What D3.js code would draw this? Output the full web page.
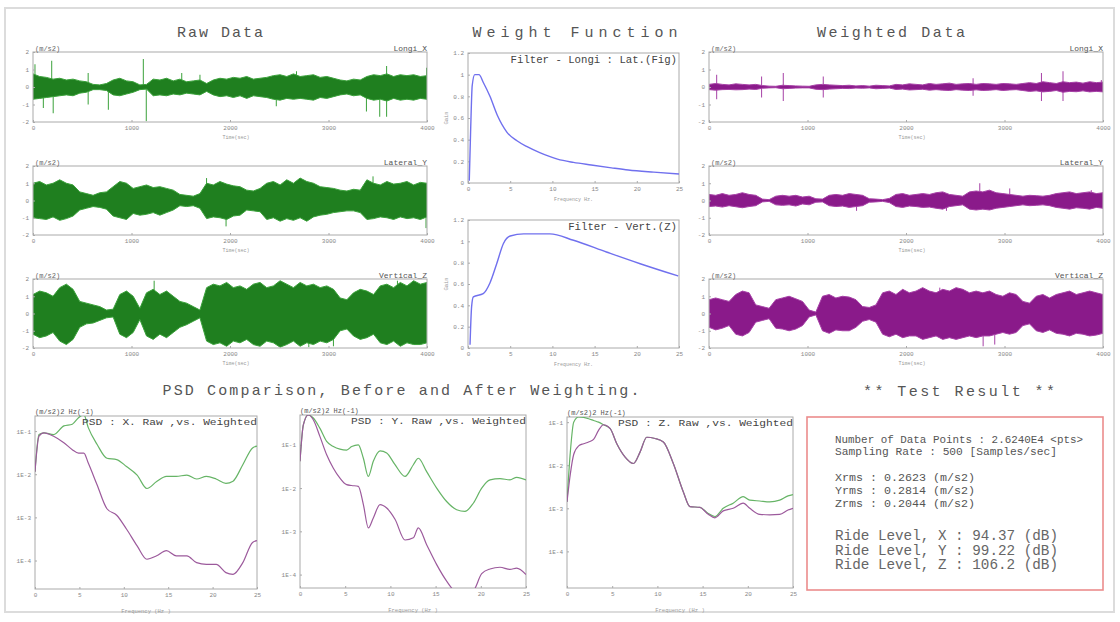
<!DOCTYPE html>
<html>
<head>
<meta charset="utf-8">
<script src="https://cdn.jsdelivr.net/npm/d3@7"></script>
<style>
	body { margin: 0; background: #fff; }
	svg text { font-family: "Liberation Mono", "DejaVu Sans Mono", monospace; }
	.tick text { fill: #888; font-size: 6px; }
	.tick line { stroke: #aaa; }
</style>
</head>
<body>
<svg id="chart" width="1120" height="622"></svg>
<script>
// ---- graduations des axes
var timeTicks = [0, 1000, 2000, 3000, 4000];
var accTicks = [-2, -1, 0, 1, 2];
var freqTicks = [0, 5, 10, 15, 20, 25];
var gainTicks = [0, 0.2, 0.4, 0.6, 0.8, 1, 1.2];
var psdTicks = [-4, -3, -2, -1]; // décades log10
var timeMax = 4000;

// ---- signaux bruts : enveloppes haute / basse (m/s2), échantillons réguliers sur 0..timeMax
var rawXUpper = [0.75,0.6,0.55, 0.45,0.5,0.4,0.45, 0.35,0.3, 0.15,0.12,0.2, 0.4,0.5,0.35,0.3, 0.12,0.15, 0.45,0.4,0.5,0.35,0.45,0.3,0.35,0.4, 0.2, 0.4,0.5,0.45,0.55,0.5,0.6,0.45,0.5,0.55, 0.65,0.7,0.6,0.75,0.6,0.65,0.7,0.55,0.6,0.5, 0.4,0.35,0.45,0.4, 0.6,0.7,0.65,0.75,0.6,0.7,0.65,0.7,0.6,0.65];
var rawXLower = [-0.7,-0.65,-0.6, -0.55,-0.5,-0.45,-0.5, -0.35,-0.3, -0.15,-0.15,-0.2, -0.45,-0.5,-0.4,-0.3, -0.15,-0.12, -0.5,-0.45,-0.5,-0.4,-0.45,-0.35,-0.4,-0.45, -0.25, -0.45,-0.55,-0.5,-0.6,-0.5,-0.65,-0.5,-0.55,-0.6, -0.7,-0.75,-0.65,-0.7,-0.65,-0.7,-0.75,-0.6,-0.65,-0.55, -0.45,-0.4,-0.5,-0.45, -0.65,-0.75,-0.7,-0.8,-0.65,-0.75,-0.7,-0.75,-0.65,-0.7];
var rawXSpikes = [[20,1.3],[105,-1.2],[190,1.5],[205,-1.5],[560,0.8],[560,-1.0],[765,-1.3],[1120,1.6],[1150,-1.95],[1510,0.8],[1695,0.7],[2470,-1.1],[2675,0.9],[3385,-1.4],[3520,-1.7],[3590,1.2],[3590,-1.7],[3995,1.1]];

var rawYUpper = [1.0,1.1,0.9,1.0,1.2,1.0,0.9, 0.5,0.4,0.3,0.45,0.5, 0.8,1.1,1.0, 0.7,0.8,0.9,0.75,0.8,0.7,0.6, 0.35,0.3,0.25,0.4, 1.0,0.9,1.1,0.95,0.85,0.8, 0.6,0.55,0.7, 1.0,1.1,0.9,1.2,1.0,1.3,1.1,1.0, 0.8,0.75,0.7, 0.6,0.55,0.65,0.6,1.2, 1.0,0.9,1.1,0.95,1.0,1.1,0.9,1.05,1.0];
var rawYLower = [-1.0,-1.05,-1.1,-0.95,-1.15,-1.05,-0.9, -0.55,-0.45,-0.35,-0.4,-0.5, -0.9,-1.0,-1.1, -0.75,-0.85,-0.8,-0.7,-0.85,-0.7,-0.55, -0.3,-0.35,-0.3,-0.45, -1.05,-0.95,-1.0,-1.1,-0.9,-0.85, -0.55,-0.6,-0.65, -1.1,-1.0,-1.2,-1.05,-1.15,-1.0,-1.2,-0.95, -0.85,-0.8,-0.7, -0.65,-0.6,-0.6,-0.7,-1.1, -1.05,-0.95,-1.0,-1.1,-0.95,-1.05,-1.0,-1.1,-0.95];
var rawYSpikes = [[1762,1.3],[1960,-1.5],[3452,1.4],[3990,-1.6]];

var rawZUpper = [1.1,1.3,1.2,1.0, 1.5,1.7,1.4, 0.7,0.6,0.5,0.4, 0.2,0.25, 1.1,1.3,1.0, 0.3, 1.2,1.4,1.1,1.3,1.0, 0.7,0.6,0.4, 0.2, 1.5,1.7,1.6,1.8,1.5,1.6,1.4,1.7,1.8,1.5,1.6,1.9,1.7,1.5,1.8,1.6,1.7,1.5,1.6,1.4, 0.9,0.8, 1.2,1.4,1.3,1.1, 1.6,1.7,1.5,1.8,1.6,1.9,1.7,1.8];
var rawZLower = [-1.2,-1.4,-1.3,-1.1, -1.6,-1.8,-1.5, -0.8,-0.6,-0.55,-0.4, -0.25,-0.2, -1.2,-1.4,-1.1, -0.35, -1.3,-1.5,-1.2,-1.4,-1.1, -0.8,-0.65,-0.45, -0.25, -1.6,-1.8,-1.7,-1.9,-1.6,-1.7,-1.5,-1.8,-1.9,-1.6,-1.7,-1.95,-1.8,-1.6,-1.9,-1.7,-1.8,-1.6,-1.7,-1.5, -1.0,-0.9, -1.3,-1.5,-1.4,-1.2, -1.7,-1.8,-1.6,-1.9,-1.7,-1.8,-1.8,-1.7];
var rawZSpikes = [[1230,1.9],[2800,-1.95],[3050,-1.9],[3700,1.9]];

// ---- signaux pondérés
var wXUpper = [0.15,0.2,0.15,0.12,0.18,0.15,0.12,0.15, 0.08,0.05,0.04, 0.1,0.08,0.06,0.05,0.04, 0.12,0.15,0.12,0.1, 0.08,0.1,0.06,0.08,0.05,0.1,0.08,0.06, 0.15,0.12,0.18,0.15,0.12,0.2,0.15,0.18,0.22,0.15,0.18,0.2,0.15,0.2,0.18,0.15,0.2,0.18,0.15,0.2, 0.25,0.2,0.3,0.25,0.2,0.3,0.25,0.28,0.22,0.3,0.25,0.28];
var wXLower = [-0.15,-0.18,-0.15,-0.14,-0.16,-0.15,-0.12,-0.14, -0.07,-0.05,-0.04, -0.1,-0.08,-0.06,-0.05,-0.05, -0.13,-0.15,-0.12,-0.1, -0.08,-0.09,-0.06,-0.07,-0.05,-0.1,-0.08,-0.06, -0.14,-0.12,-0.17,-0.15,-0.13,-0.18,-0.15,-0.18,-0.2,-0.15,-0.18,-0.2,-0.16,-0.2,-0.18,-0.15,-0.2,-0.17,-0.15,-0.2, -0.25,-0.22,-0.28,-0.25,-0.2,-0.3,-0.25,-0.27,-0.22,-0.28,-0.25,-0.28];
var wXSpikes = [[78,0.7],[78,-0.7],[534,0.6],[534,-0.6],[754,0.8],[754,-0.8],[1160,0.6],[1160,-0.6],[2681,0.5],[2681,-0.5],[3375,0.8],[3375,-0.8],[3594,0.9],[3594,-0.8],[3983,0.4]];

var wYUpper = [0.35,0.3,0.4,0.3,0.35,0.45,0.35,0.3, 0.08,0.05, 0.25,0.3,0.25,0.3,0.2,0.25, 0.1,0.08, 0.3,0.35,0.3,0.4,0.35,0.3, 0.1,0.08,0.05,0.12, 0.35,0.4,0.3,0.35, 0.4,0.35,0.45,0.5,0.35, 0.3,0.25, 0.5,0.55,0.5,0.6,0.45,0.4,0.35, 0.3,0.25,0.3,0.28,0.25,0.3, 0.4,0.45,0.5,0.4,0.45,0.5,0.4,0.45];
var wYLower = [-0.35,-0.32,-0.38,-0.3,-0.36,-0.42,-0.35,-0.3, -0.08,-0.05, -0.25,-0.28,-0.25,-0.32,-0.2,-0.25, -0.1,-0.08, -0.3,-0.35,-0.32,-0.4,-0.35,-0.3, -0.1,-0.08,-0.05,-0.12, -0.35,-0.4,-0.32,-0.35, -0.4,-0.38,-0.45,-0.5,-0.35, -0.3,-0.25, -0.5,-0.55,-0.5,-0.55,-0.45,-0.4,-0.35, -0.3,-0.25,-0.3,-0.28,-0.25,-0.3, -0.4,-0.45,-0.5,-0.42,-0.45,-0.5,-0.4,-0.45];
var wYSpikes = [[1498,-0.6],[2411,-0.6],[2749,1.0],[3053,0.7],[3881,0.6]];

var wZUpper = [0.8,0.9,0.8,0.7, 1.1,1.3,1.2, 0.5,0.4,0.3, 0.8,0.9,1.0,0.85,0.7, 0.2,0.08, 1.0,1.1,0.9,1.0,0.95,0.8, 0.4,0.35,0.5, 1.2,1.3,1.1,1.4,1.2,1.3,1.5,1.3,1.2,1.4,1.3,1.5,1.4,1.2,1.3,1.2,1.3,1.1,1.0,1.2,1.1, 0.7,0.6, 1.0,1.1,0.9, 1.1,1.2,1.3,1.1,1.2,1.3,1.2,1.1];
var wZLower = [-0.8,-0.95,-0.85,-0.7, -1.2,-1.3,-1.1, -0.5,-0.4,-0.3, -0.85,-0.9,-1.0,-0.9,-0.7, -0.2,-0.08, -1.0,-1.15,-0.95,-1.0,-1.0,-0.8, -0.45,-0.35,-0.5, -1.2,-1.35,-1.2,-1.4,-1.3,-1.3,-1.5,-1.4,-1.3,-1.5,-1.4,-1.5,-1.4,-1.3,-1.4,-1.3,-1.3,-1.2,-1.1,-1.2,-1.1, -0.7,-0.6, -1.0,-1.1,-0.95, -1.15,-1.2,-1.3,-1.15,-1.2,-1.3,-1.25,-1.15];
var wZSpikes = [[2343,1.5],[2783,-1.9],[2901,-1.8]];

// ---- fonctions de pondération (gain en fonction de la fréquence, Hz)
var wdFreq = [0.15,0.3,0.5,0.8,1.3,1.8,2.6,3.5,4.6,5.8,7,8.5,10.6,12.5,14.6,17,19,22,25];
var wdGain = [0.02,0.45,0.9,1.0,1.0,0.93,0.8,0.62,0.47,0.39,0.335,0.28,0.22,0.19,0.166,0.14,0.12,0.1,0.083];
var wkFreq = [0.24,0.43,0.63,1.8,2.6,3.4,4.2,5,6.6,9.7,12.5,16.4,20.4,24.9];
var wkGain = [0.03,0.39,0.48,0.51,0.61,0.79,0.98,1.05,1.07,1.07,1.01,0.9,0.79,0.675];

// ---- DSP (log10 de (m/s2)^2/Hz), brut vs pondéré
var psdXFreq = [0,0.45,1.0,2.1,3.25,4.2,4.9,5.5,6.0,7.0,8.1,9.2,10.3,11.5,12.6,13.7,14.8,15.9,17.1,18.2,19.3,20.4,21.5,22.3,23.4,24.5,25];
var psdXRaw = [-1.94,-1.08,-1.04,-1.08,-0.88,-0.84,-0.69,-0.62,-0.92,-1.31,-1.63,-1.66,-1.82,-2.02,-2.33,-2.17,-2.05,-2.05,-2.02,-2.11,-2.05,-2.11,-2.21,-2.16,-1.78,-1.39,-1.35];
var psdXWeighted = [-1.94,-1.12,-1.04,-1.12,-1.27,-1.43,-1.51,-1.51,-1.74,-2.25,-2.80,-2.95,-3.27,-3.66,-3.97,-3.89,-3.77,-3.89,-3.89,-4.05,-4.09,-4.09,-4.28,-4.32,-4.05,-3.58,-3.54];

var psdYFreq = [0,0.37,0.92,1.47,2.21,2.95,3.69,4.42,5.16,5.72,6.45,7.01,7.56,8.11,8.85,9.59,10.51,11.62,12.54,13.09,14.01,15.12,16.22,17.33,18.25,19.17,20.1,21.02,22.12,23.23,23.97,25];
var psdYRaw = [-1.38,-0.54,-0.31,-0.38,-0.62,-0.92,-1.04,-1.1,-1.12,-1.04,-1.0,-1.31,-1.73,-1.38,-1.14,-1.19,-1.46,-1.73,-1.46,-1.31,-1.62,-2.0,-2.31,-2.5,-2.54,-2.35,-2.0,-1.81,-1.78,-1.81,-1.75,-1.81];
var psdYWeighted = [-1.38,-0.54,-0.31,-0.42,-0.81,-1.23,-1.54,-1.77,-1.92,-1.94,-1.96,-2.38,-2.92,-2.69,-2.38,-2.46,-2.72,-3.2,-3.15,-2.92,-3.31,-3.77,-4.15,-4.42,-4.46,-4.38,-3.98,-3.87,-3.83,-3.88,-3.85,-4.0];

var psdZFreq = [0,0.37,0.74,1.29,1.84,2.39,2.94,3.49,4.04,4.78,5.51,6.43,7.35,8.09,8.82,9.74,10.66,11.76,12.87,13.6,14.71,15.63,16.36,17.28,18.38,19.49,20.22,21.32,22.43,23.53,24.45,25];
var psdZRaw = [-2.85,-1.69,-1.0,-0.88,-0.89,-0.92,-0.96,-1.0,-1.06,-1.15,-1.5,-1.81,-1.96,-1.69,-1.35,-1.38,-1.46,-1.96,-2.62,-2.96,-2.98,-3.12,-3.19,-3.0,-2.88,-2.73,-2.81,-2.83,-2.85,-2.81,-2.71,-2.68];
var psdZWeighted = [-2.85,-2.2,-1.75,-1.55,-1.5,-1.46,-1.4,-1.19,-1.06,-1.15,-1.5,-1.81,-1.96,-1.69,-1.35,-1.38,-1.46,-1.96,-2.62,-2.96,-2.98,-3.14,-3.22,-3.06,-3.0,-2.88,-3.0,-3.14,-3.15,-3.14,-3.04,-3.0];

// ---- résultats du test
var resultSmall = [
	"Number of Data Points : 2.6240E4  <pts>",
	"Sampling Rate : 500 [Samples/sec]"
];
var resultRms = [
	"Xrms : 0.2623  (m/s2)",
	"Yrms : 0.2814  (m/s2)",
	"Zrms : 0.2044  (m/s2)"
];
var resultRide = [
	"Ride Level,  X :  94.37 (dB)",
	"Ride Level,  Y :  99.22 (dB)",
	"Ride Level,  Z :  106.2 (dB)"
];

var svg = d3.select("#chart");
var clipId = 0;
var plain = d => String(d);

// cadre de la page
svg.append("rect").attr("x", 5).attr("y", 8).attr("width", 1109).attr("height", 604)
	.attr("fill", "none").attr("stroke", "#dcdcdc").attr("stroke-width", 2);

// titres
function title(txt, x, y, len, size) {
	svg.append("text").attr("x", x).attr("y", y)
		.attr("text-anchor", "middle")
		.attr("font-size", size || 15)
		.attr("fill", "#555")
		.attr("textLength", len).attr("lengthAdjust", "spacing")
		.text(txt);
}
title("Raw Data", 220, 37, 86);
title("Weight Function", 575, 37, 205);
title("Weighted Data", 891, 37, 148);
title("PSD Comparison, Before and After Weighting.", 401, 395, 477);
title("** Test Result **", 959, 396, 192);

function smallText(txt, x, y, size, anchor, color) {
	return svg.append("text").attr("x", x).attr("y", y)
		.attr("font-size", size).attr("text-anchor", anchor || "start")
		.attr("fill", color || "#666").text(txt);
}

// cadre + axes communs
function frame(x0, x1, y0, y1, xScale, yScale, xt, yt, yFmt) {
	var g = svg.append("g");
	g.append("g").attr("transform", "translate(0," + y1 + ")")
		.call(d3.axisBottom(xScale).tickValues(xt).tickSize(-2).tickPadding(4).tickFormat(plain))
		.call(a => a.select(".domain").remove());
	g.append("g").attr("transform", "translate(" + x0 + ",0)")
		.call(d3.axisLeft(yScale).tickValues(yt).tickSize(-2).tickPadding(4).tickFormat(yFmt || plain))
		.call(a => a.select(".domain").remove());
	g.append("rect").attr("x", x0).attr("y", y0).attr("width", x1 - x0).attr("height", y1 - y0)
		.attr("fill", "none").attr("stroke", "#aaa").attr("stroke-width", 1);
	return g;
}

function clip(x0, x1, y0, y1) {
	var id = "clip" + (clipId++);
	svg.append("clipPath").attr("id", id).append("rect")
		.attr("x", x0).attr("y", y0).attr("width", x1 - x0).attr("height", y1 - y0);
	return "url(#" + id + ")";
}

// panneau temporel (enveloppe du signal + pics)
function timePanel(x0, x1, y0, y1, upper, lower, spikes, fill, edge, chan) {
	var x = d3.scaleLinear().domain([0, timeMax]).range([x0, x1]);
	var y = d3.scaleLinear().domain([-2, 2]).range([y1, y0]);
	var g = svg.append("g").attr("clip-path", clip(x0, x1, y0, y1));
	var step = timeMax / (upper.length - 1);

	g.selectAll("line.spike").data(spikes).enter().append("line")
		.attr("x1", d => x(d[0])).attr("x2", d => x(d[0]))
		.attr("y1", y(0)).attr("y2", d => y(d[1]))
		.attr("stroke", edge).attr("stroke-width", 1);

	var area = d3.area()
		.x((d, i) => x(i * step))
		.y0((d, i) => y(lower[i]))
		.y1(d => y(d));
	g.append("path").datum(upper).attr("d", area)
		.attr("fill", fill).attr("stroke", edge).attr("stroke-width", 1)
		.attr("stroke-linejoin", "bevel");

	frame(x0, x1, y0, y1, x, y, timeTicks, accTicks);
	smallText("(m/s2)", x0 + 2, y0 - 1, 7);
	smallText(chan, x1, y0 - 1, 8, "end", "#555");
	smallText("Time(sec)", (x0 + x1) / 2 + 6, y1 + 17, 5, "middle", "#999");
}

var rawColor = "#1f7f1f", rawEdge = "#3aa13a";
var wColor = "#8a1a8a", wEdge = "#a640a6";
var panelsY = [[52, 122], [166, 235], [279, 348]];

timePanel(33, 427, panelsY[0][0], panelsY[0][1], rawXUpper, rawXLower, rawXSpikes, rawColor, rawEdge, "Longi_X");
timePanel(33, 427, panelsY[1][0], panelsY[1][1], rawYUpper, rawYLower, rawYSpikes, rawColor, rawEdge, "Lateral_Y");
timePanel(33, 427, panelsY[2][0], panelsY[2][1], rawZUpper, rawZLower, rawZSpikes, rawColor, rawEdge, "Vertical_Z");
timePanel(709, 1103, panelsY[0][0], panelsY[0][1], wXUpper, wXLower, wXSpikes, wColor, wEdge, "Longi_X");
timePanel(709, 1103, panelsY[1][0], panelsY[1][1], wYUpper, wYLower, wYSpikes, wColor, wEdge, "Lateral_Y");
timePanel(709, 1103, panelsY[2][0], panelsY[2][1], wZUpper, wZLower, wZSpikes, wColor, wEdge, "Vertical_Z");

// fonctions de pondération
function weightPanel(y0, y1, freq, gain, label) {
	var x0 = 468, x1 = 679;
	var x = d3.scaleLinear().domain([0, 25]).range([x0, x1]);
	var y = d3.scaleLinear().domain([0, 1.2]).range([y1, y0]);
	frame(x0, x1, y0, y1, x, y, freqTicks, gainTicks);
	var line = d3.line().x((d, i) => x(freq[i])).y(d => y(d)).curve(d3.curveMonotoneX);
	svg.append("path").datum(gain).attr("d", line)
		.attr("fill", "none").attr("stroke", "#7070ee").attr("stroke-width", 1.4);
	svg.append("text").attr("x", x1 - 2).attr("y", y0 + 10)
		.attr("font-size", 10).attr("text-anchor", "end").attr("fill", "#444")
		.attr("textLength", label.length * 6.4).attr("lengthAdjust", "spacingAndGlyphs")
		.text(label);
	smallText("Frequency Hz.", (x0 + x1) / 2, y1 + 18, 5, "middle", "#999");
	svg.append("text").attr("transform", "translate(448," + ((y0 + y1) / 2) + ") rotate(-90)")
		.attr("font-size", 5.5).attr("fill", "#999").attr("text-anchor", "middle").text("Gain");
}
weightPanel(53, 183, wdFreq, wdGain, "Filter - Longi : Lat.(Fig)");
weightPanel(220, 348, wkFreq, wkGain, "Filter - Vert.(Z)");

// comparaison DSP
function psdPanel(x0, x1, y0, y1, dom, freq, raw, weighted, axis) {
	var x = d3.scaleLinear().domain([0, 25]).range([x0, x1]);
	var y = d3.scaleLinear().domain(dom).range([y1, y0]);
	frame(x0, x1, y0, y1, x, y, freqTicks, psdTicks, d => "1E" + d);
	var g = svg.append("g").attr("clip-path", clip(x0, x1, y0, y1));
	var line = d3.line().x((d, i) => x(freq[i])).y(d => y(d)).curve(d3.curveMonotoneX);
	g.append("path").datum(raw).attr("d", line)
		.attr("fill", "none").attr("stroke", "#66b466").attr("stroke-width", 1.2);
	g.append("path").datum(weighted).attr("d", line)
		.attr("fill", "none").attr("stroke", "#9c5a9c").attr("stroke-width", 1.2);
	var t = "PSD : " + axis + ".  Raw ,vs. Weighted";
	svg.append("text").attr("x", x1).attr("y", y0 + 9)
		.attr("font-size", 9).attr("text-anchor", "end").attr("fill", "#444")
		.attr("textLength", 175).attr("lengthAdjust", "spacingAndGlyphs").text(t);
	smallText("(m/s2)2 Hz(-1)", x0, y0 - 2, 7, "start", "#555");
	smallText("Frequency (Hz )", (x0 + x1) / 2, y1 + 24, 5.5, "middle", "#999");
}
psdPanel(35, 257, 416, 589, [-4.66, -0.65], psdXFreq, psdXRaw, psdXWeighted, "X");
psdPanel(300, 526, 415, 588, [-4.31, -0.31], psdYFreq, psdYRaw, psdYWeighted, "Y");
psdPanel(567, 793, 417, 588, [-4.85, -0.88], psdZFreq, psdZRaw, psdZWeighted, "Z");

// encadré des résultats
svg.append("rect").attr("x", 807).attr("y", 417).attr("width", 296).attr("height", 173)
	.attr("fill", "none").attr("stroke", "#ec8c8c").attr("stroke-width", 1.6);

var smallLen = [248, 222];
svg.selectAll("text.small").data(resultSmall).enter().append("text")
	.attr("x", 835).attr("y", (d, i) => 443 + i * 12)
	.attr("font-size", 10).attr("fill", "#555")
	.attr("textLength", (d, i) => smallLen[i]).attr("lengthAdjust", "spacingAndGlyphs")
	.text(d => d);
svg.selectAll("text.rms").data(resultRms).enter().append("text")
	.attr("x", 835).attr("y", (d, i) => 481 + i * 13)
	.attr("font-size", 10).attr("fill", "#555")
	.attr("textLength", 140).attr("lengthAdjust", "spacingAndGlyphs")
	.text(d => d);
svg.selectAll("text.ride").data(resultRide).enter().append("text")
	.attr("x", 835).attr("y", (d, i) => 540 + i * 14.5)
	.attr("font-size", 14).attr("fill", "#666")
	.attr("textLength", 223).attr("lengthAdjust", "spacingAndGlyphs")
	.text(d => d);
</script>
</body>
</html>
